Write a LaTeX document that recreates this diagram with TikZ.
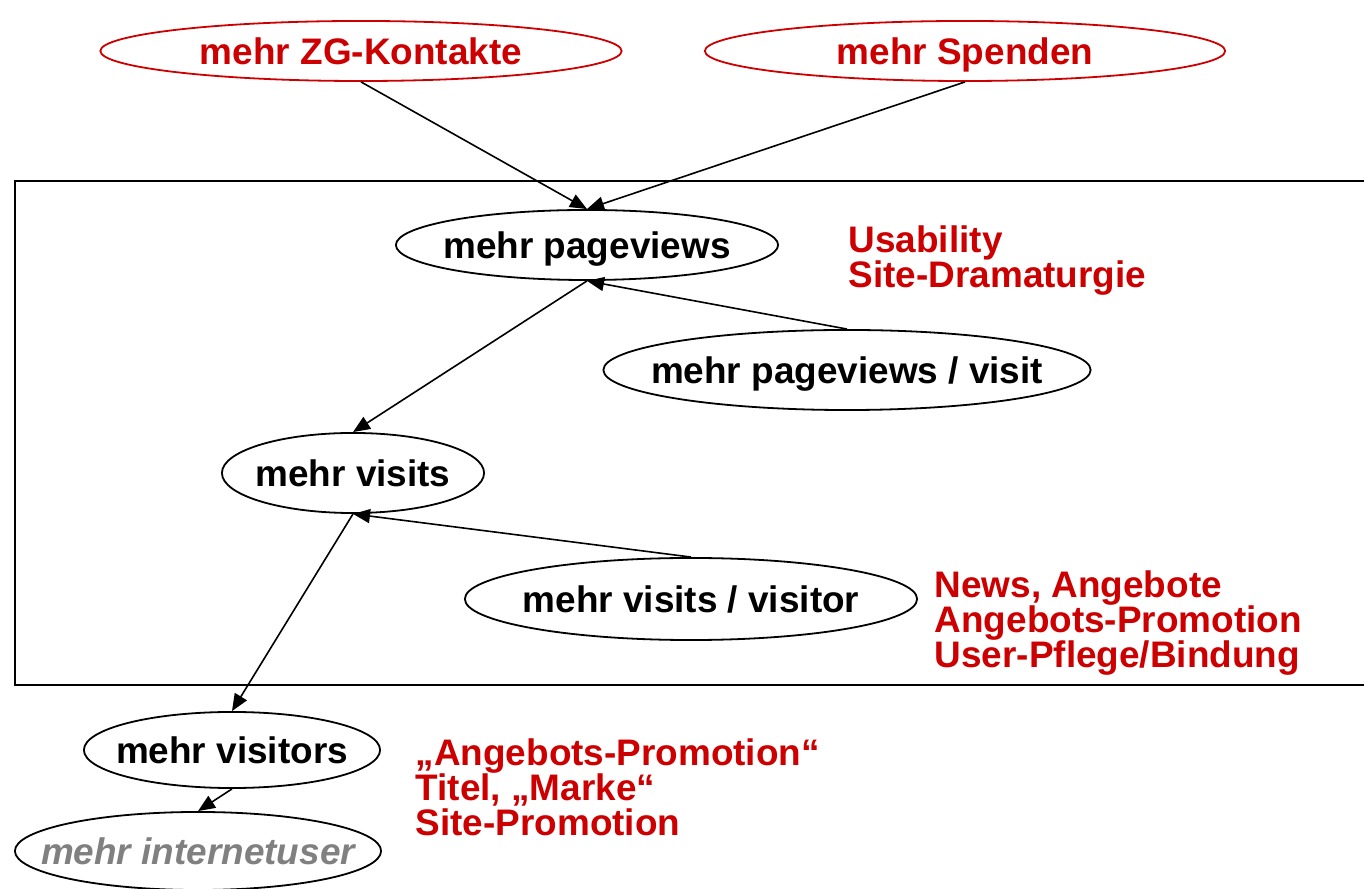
\documentclass[tikz,border=0pt]{standalone}
\usepackage{fontspec}
\setmainfont{Liberation Sans}
\usetikzlibrary{shapes.geometric,arrows.meta}
\definecolor{dred}{RGB}{204,0,0}
\definecolor{ugray}{RGB}{128,128,128}
\newcommand{\gtxt}[1]{\makebox[0pt]{#1}}
\tikzset{
  goal/.style={draw,ellipse,inner sep=0pt,line width=0.18mm,text height=7.5pt,text depth=0pt,
    font=\fontsize{10.5}{10}\selectfont\bfseries},
  hint/.style={text=dred,align=left,anchor=north west,inner sep=0pt,
    font=\fontsize{10.5}{9.9}\selectfont\bfseries},
  pf/.style={-{Triangle[length=1.7mm,width=1.4mm]},line width=0.16mm}
}

\begin{document}
\begin{tikzpicture}[x=0.01cm,y=-0.01cm]
      \useasboundingbox (0,0) rectangle (1364,889);
      \draw[line width=0.2mm] (15,181) rectangle (1380,685);
      % ziele oben
      \node (zg) at (361,51) [goal,draw=dred,text=dred,minimum width=5.21cm,minimum height=0.6cm] {\gtxt{mehr ZG-Kontakte}};
      \node (spenden) at (965,51) [goal,draw=dred,text=dred,minimum width=5.2cm,minimum height=0.6cm] {\gtxt{mehr Spenden}};
      % kette
      \node (pv) at (587,245) [goal,minimum width=3.82cm,minimum height=0.7cm] {\gtxt{mehr pageviews}};
      \node (ppv) at (847,370) [goal,minimum width=4.87cm,minimum height=0.8cm] {\gtxt{mehr pageviews / visit}};
      \node (vis) at (353,473) [goal,minimum width=2.62cm,minimum height=0.8cm] {\gtxt{mehr visits}};
      \node (vpv) at (691,599) [goal,minimum width=4.52cm,minimum height=0.82cm] {\gtxt{mehr visits / visitor}};
      \node (vtor) at (232,750) [goal,minimum width=2.96cm,minimum height=0.76cm] {\gtxt{mehr visitors}};
      \node (inet) at (198,851) [goal,text=ugray,font=\fontsize{10.5}{10}\selectfont\bfseries\itshape,minimum width=3.66cm,minimum height=0.78cm] {\gtxt{mehr internetuser}};
      \draw[pf] (zg.south) -- (pv.north);
      \draw[pf] (spenden.south) -- (pv.north);
      \draw[pf] (ppv.north) -- (pv.south);
      \draw[pf] (pv.south) -- (vis.north);
      \draw[pf] (vpv.north) -- (vis.south);
      \draw[pf] (vis.south) -- (vtor.north);
      \draw[pf] (vtor.south) -- (inet.north);
      % massnahmen
      \node (usab) at (848,225) [hint] {Usability\\Site-Dramaturgie};
      \node (news) at (934,570) [hint] {News, Angebote\\Angebots-Promotion\\User-Pflege/Bindung};
      \node (promo) at (415,738) [hint] {„Angebots-Promotion“\\Titel, „Marke“\\Site-Promotion};
\end{tikzpicture}
\end{document}
